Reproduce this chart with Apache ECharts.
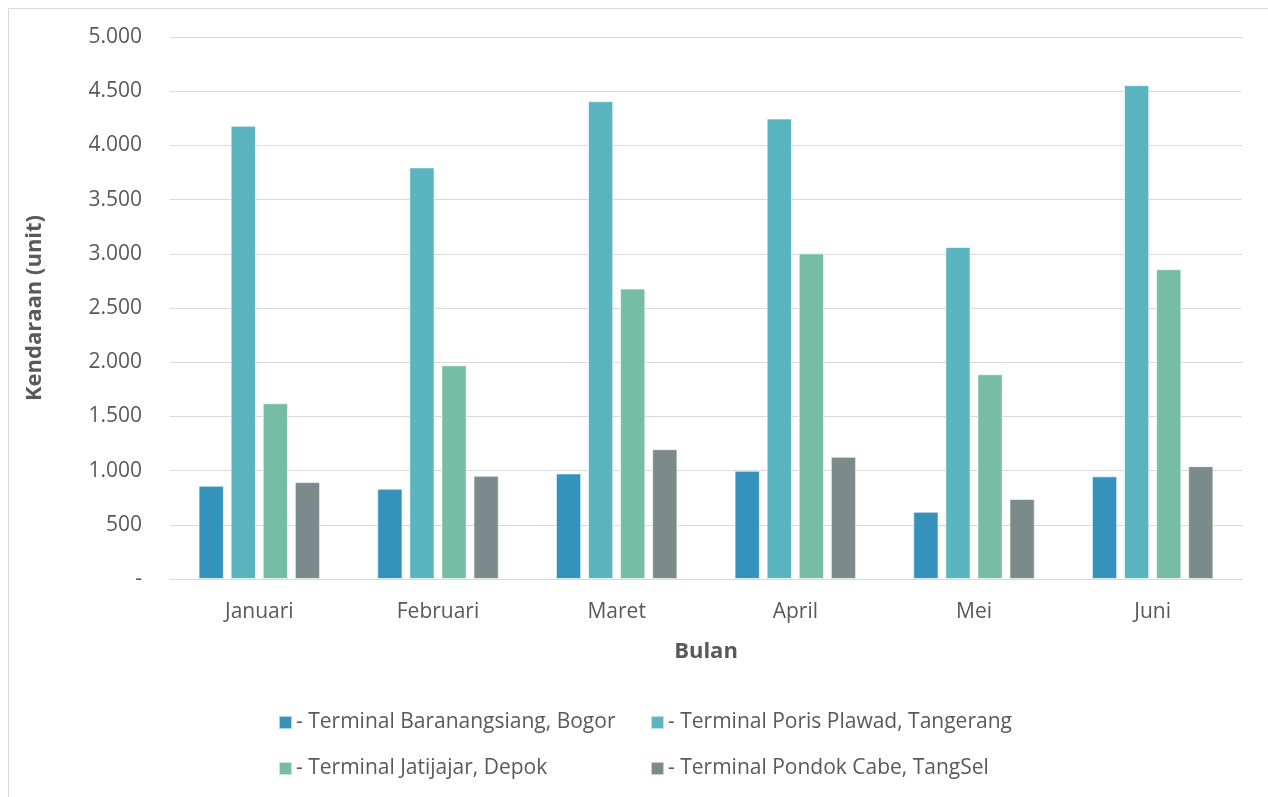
<!DOCTYPE html>
<html><head><meta charset="utf-8">
<script src="https://cdn.jsdelivr.net/npm/echarts@6/dist/echarts.min.js"></script>
<style>html,body{margin:0;padding:0;background:#fff}#c{width:1268px;height:797px}</style>
</head><body><div id="c"></div>
<script>
const categories = ['Januari','Februari','Maret','April','Mei','Juni'];
const seriesNames = ['- Terminal Baranangsiang, Bogor','- Terminal Poris Plawad, Tangerang','- Terminal Jatijajar, Depok','- Terminal Pondok Cabe, TangSel'];
const bogor = [860, 833, 974, 998, 620, 947];
const poris = [4181, 3797, 4408, 4248, 3063, 4556];
const jatijajar = [1622, 1972, 2679, 3004, 1889, 2858];
const pondokCabe = [894, 952, 1198, 1127, 739, 1041];
const colors = ['#3593BB','#5AB5C0','#77BDA6','#7B8B8C'];
const yTicks = [0,500,1000,1500,2000,2500,3000,3500,4000,4500,5000];

const font = 'Open Sans';
const txt = '#595959';
const values = [bogor, poris, jatijajar, pondokCabe];
const legendPos = [[273,707],[645,707],[273,753],[645,753]];

const chart = echarts.init(document.getElementById('c'));
chart.setOption({
  animation:false,
  backgroundColor:'#fff',
  graphic:[{type:'rect',shape:{x:8.5,y:8.5,width:1300,height:900},style:{fill:'none',stroke:'#d9d9d9',lineWidth:1},silent:true}],
  grid:{left:170,right:26,top:37,bottom:218},
  legend: seriesNames.map((n,i)=>({
    data:[n], left:legendPos[i][0], top:legendPos[i][1], itemWidth:13, itemHeight:13, itemGap:0,
    icon:'rect', textStyle:{fontFamily:font,fontSize:21,color:txt,padding:[0,0,0,-1]}, selectedMode:false
  })),
  xAxis:{type:'category',data:categories,
    axisLine:{lineStyle:{color:'#d9d9d9',width:1}},axisTick:{show:false},
    axisLabel:{fontFamily:font,fontSize:21,color:txt,margin:23},
    name:'Bulan',nameLocation:'middle',nameGap:62,
    nameTextStyle:{fontFamily:font,fontSize:22,fontWeight:'bold',color:txt}},
  yAxis:{type:'value',min:0,max:5000,interval:500,
    axisLine:{show:false},axisTick:{show:false},
    splitLine:{lineStyle:{color:'#d9d9d9',width:1}},
    axisLabel:{fontFamily:font,fontSize:21,color:txt,margin:28,
      formatter:v=> v===0 ? '-' : v.toLocaleString('de-DE')},
    name:'Kendaraan (unit)',nameLocation:'middle',nameGap:124,
    nameTextStyle:{fontFamily:font,fontSize:22,fontWeight:'bold',color:txt}},
  series: values.map((d,i)=>({
    name:seriesNames[i],type:'bar',data:d,
    barGap:'27%',barCategoryGap:'32%',
    itemStyle:{color:colors[i],borderColor:'rgba(255,255,255,0.6)',borderWidth:1}
  }))
});
</script></body></html>
